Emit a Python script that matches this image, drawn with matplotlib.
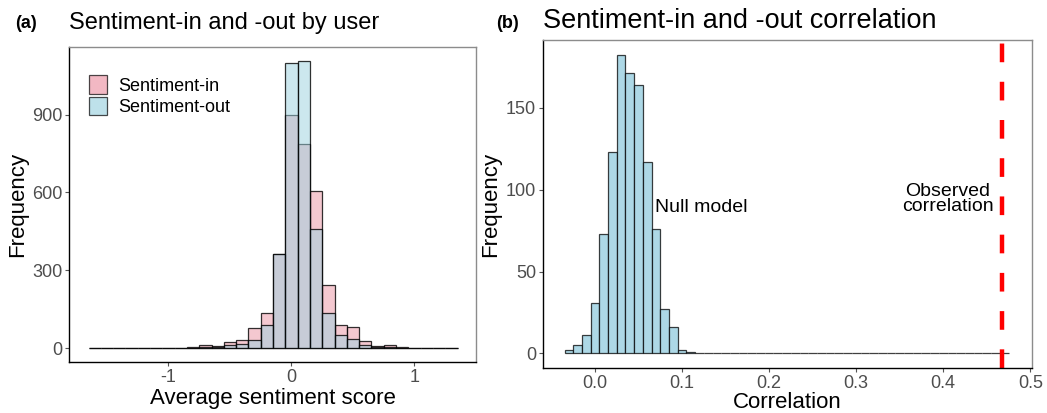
import numpy as np
import matplotlib
matplotlib.use("Agg")
import matplotlib.pyplot as plt
from matplotlib.patches import Patch
from matplotlib import font_manager

plt.rcParams['font.family'] = ['Liberation Sans', 'DejaVu Sans']

# ---- Panel (a) data: histogram of average sentiment score (bin width 0.1)
sent_centers = [-1.6, -1.5, -1.4, -1.3, -1.2, -1.1, -1.0, -0.9, -0.8, -0.7,
                -0.6, -0.5, -0.4, -0.3, -0.2, -0.1, 0.0, 0.1, 0.2, 0.3,
                0.4, 0.5, 0.6, 0.7, 0.8, 0.9, 1.0, 1.1, 1.2, 1.3]
sent_in = [1, 2, 1, 2, 1, 1, 1, 1, 4, 10,
           7, 23, 32, 77, 134, 362, 900, 787, 604, 243,
           89, 82, 27, 9, 10, 3, 2, 1, 1, 1]
sent_out = [1, 1, 1, 1, 1, 1, 1, 1, 2, 4,
            3, 10, 17, 31, 87, 363, 1098, 1107, 460, 136,
            49, 36, 12, 5, 4, 2, 1, 1, 1, 1]
series_labels = ["Sentiment-in", "Sentiment-out"]

# ---- Panel (b) data: null-model correlation histogram (bin width 0.01)
corr_centers = [round(-0.03 + 0.01 * i, 2) for i in range(51)]
corr_counts = [2, 5, 11, 31, 73, 123, 182, 171, 164, 117, 76, 27, 16, 2, 1] + [0] * 36
observed_corr = 0.467

a_xticks = [-1, 0, 1]
a_yticks = [0, 300, 600, 900]
b_xticks = [0.0, 0.1, 0.2, 0.3, 0.4, 0.5]
b_yticks = [0, 50, 100, 150]

pink = (235/255, 147/255, 163/255)
blue = (155/255, 209/255, 223/255)
tick_grey = '#4D4D4D'

# narrow face for the left title if available
narrow_ok = False
try:
    fp = font_manager.findfont(font_manager.FontProperties(family='Liberation Sans Narrow'),
                               fallback_to_default=False)
    narrow_ok = 'Narrow' in fp
except Exception:
    narrow_ok = False

fig = plt.figure(figsize=(10.47, 4.13), dpi=100)

def style(ax):
    for s in ['left', 'bottom']:
        ax.spines[s].set_color('black')
        ax.spines[s].set_linewidth(1.0)
    for s in ['top', 'right']:
        ax.spines[s].set_color('#8C8C8C')
        ax.spines[s].set_linewidth(1.0)
    ax.tick_params(axis='both', colors='#555555', labelcolor=tick_grey,
                   labelsize=13, length=3, width=0.8, pad=2)

# ---- Panel (a)
ax1 = fig.add_axes([0.0662, 0.1228, 0.3884, 0.7627])
ax1.bar(sent_centers, sent_in, width=0.1, facecolor=pink + (0.5,),
        edgecolor=(0, 0, 0, 0.8), linewidth=0.9)
ax1.bar(sent_centers, sent_out, width=0.1, facecolor=blue + (0.5,),
        edgecolor=(0, 0, 0, 0.8), linewidth=0.9)
ax1.set_xlim(-1.806, 1.50)
ax1.set_ylim(-55, 1160)
ax1.set_xticks(a_xticks)
ax1.set_xticklabels([str(t) for t in a_xticks])
ax1.set_yticks(a_yticks)
style(ax1)
ax1.set_xlabel("Average sentiment score", fontsize=16, labelpad=1)
ax1.set_ylabel("Frequency", fontsize=16, labelpad=3)
handles = [Patch(facecolor=pink + (0.65,), edgecolor=(0, 0, 0, 0.7), linewidth=0.9),
           Patch(facecolor=blue + (0.65,), edgecolor=(0, 0, 0, 0.7), linewidth=0.9)]
ax1.legend(handles, series_labels, loc='upper left', bbox_to_anchor=(0.022, 0.945),
           frameon=False, fontsize=13, handlelength=1.0, handleheight=1.2,
           handletextpad=0.6, labelspacing=0.1, borderaxespad=0.2)
fig.text(0.014, 0.942, "(a)", fontsize=13, fontweight='bold', va='center')
if narrow_ok:
    fig.text(0.0662, 0.945, "Sentiment-in and -out by user", fontsize=19.5,
             va='center', family=['Liberation Sans Narrow', 'Liberation Sans'])
else:
    fig.text(0.0662, 0.945, "Sentiment-in and -out by user", fontsize=17, va='center')

# ---- Panel (b)
ax2 = fig.add_axes([0.5186, 0.109, 0.4671, 0.794])
ax2.bar(corr_centers, corr_counts, width=0.01, facecolor='#ADD8E6',
        edgecolor=(0, 0, 0, 0.75), linewidth=0.9)
ax2.axvline(observed_corr, color='#FF0000', linewidth=3.2, dashes=(4.2, 4.4))
ax2.set_xlim(-0.0598, 0.502)
ax2.set_ylim(-8.9, 191.3)
ax2.set_xticks(b_xticks)
ax2.set_xticklabels([f"{t:.1f}" for t in b_xticks])
ax2.set_yticks(b_yticks)
style(ax2)
ax2.set_xlabel("Correlation", fontsize=16, labelpad=0)
ax2.set_ylabel("Frequency", fontsize=16, labelpad=3)
ax2.text(0.069, 89, "Null model", fontsize=14, ha='left', va='center')
ax2.text(0.405, 94, "Observed\ncorrelation", fontsize=14, ha='center',
         va='center', linespacing=0.85)
fig.text(0.474, 0.942, "(b)", fontsize=13, fontweight='bold', va='center')
fig.text(0.5186, 0.950, "Sentiment-in and -out correlation", fontsize=19.5, va='center')

fig.savefig("out.png", dpi=100)
